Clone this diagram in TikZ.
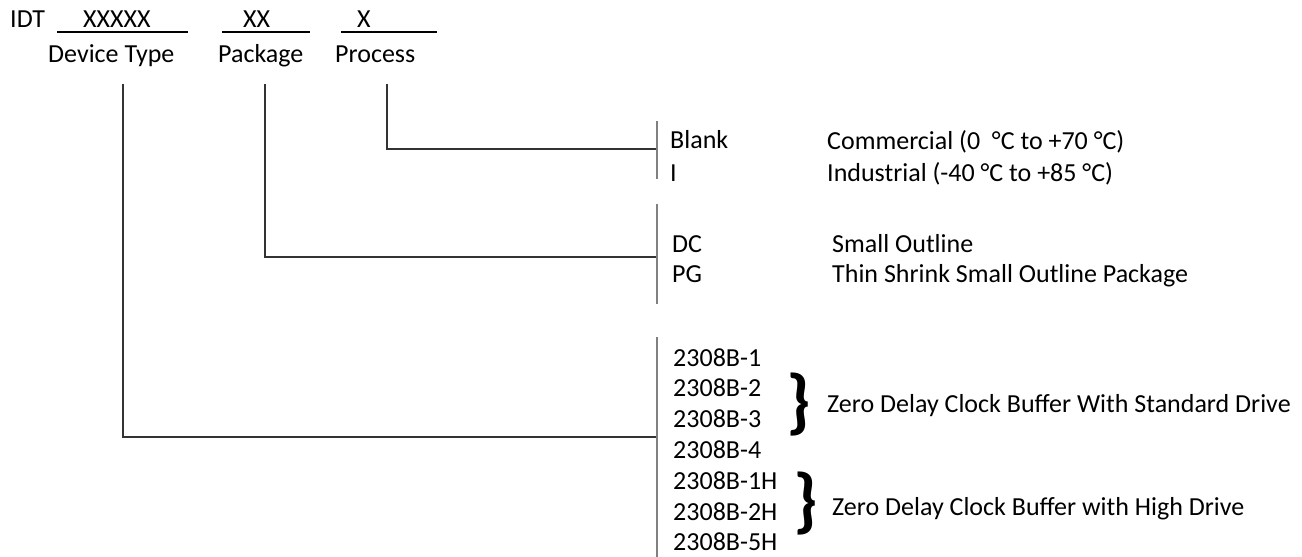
\documentclass[tikz,border=0pt]{standalone}
\usepackage{fontspec}
\setmainfont{Carlito}
\usetikzlibrary{positioning}
\definecolor{linegray}{gray}{0.2}
\definecolor{bargray}{gray}{0.5}
\tikzset{
  lbl/.style={anchor=base west,inner sep=0pt,font=\fontsize{26}{30}\selectfont},
  conn/.style={draw=linegray,line width=1.3pt},
  bar/.style={draw=bargray,line width=1.6pt},
  uline/.style={draw=black,line width=1.2pt},
  brc/.style={inner sep=0pt,font=\fontsize{72}{72}\selectfont\bfseries},
}
\begin{document}
\begin{tikzpicture}[x=1pt,y=-1pt]
  \useasboundingbox (0,0) rectangle (1302,557);

  \node[lbl] (idt) at (10,27) {IDT};
  \node[lbl] (xxxxx) at (83,27) {XXXXX};
  \node[lbl] (xx) at (243,27) {XX};
  \node[lbl] (x) at (357,27) {X};
  \coordinate (u1a) at (57,32);  \coordinate (u1b) at (188,32);
  \coordinate (u2a) at (222,32); \coordinate (u2b) at (310,32);
  \coordinate (u3a) at (341,32); \coordinate (u3b) at (437,32);
  \draw[uline] (u1a) -- (u1b);
  \draw[uline] (u2a) -- (u2b);
  \draw[uline] (u3a) -- (u3b);

  \node[lbl] (devtype) at (48,62) {Device Type};
  \node[lbl] (package) at (218,62) {Package};
  \node[lbl] (process) at (335,62) {Process};

  \coordinate (devtop) at (123,84);
  \coordinate (pkgtop) at (265,84);
  \coordinate (prctop) at (387,84);
  \coordinate (prcbar) at (657,149);
  \coordinate (pkgbar) at (657,257);
  \coordinate (devbar) at (657,437);
  \draw[conn] (prctop) |- (prcbar);
  \draw[conn] (pkgtop) |- (pkgbar);
  \draw[conn] (devtop) |- (devbar);

  \coordinate (bar1t) at (657,121); \coordinate (bar1b) at (657,179);
  \coordinate (bar2t) at (657,204); \coordinate (bar2b) at (657,304);
  \coordinate (bar3t) at (657,337); \coordinate (bar3b) at (657,557);
  \draw[bar] (bar1t) -- (bar1b);
  \draw[bar] (bar2t) -- (bar2b);
  \draw[bar] (bar3t) -- (bar3b);

  \node[lbl] (blank) at (670,148) {Blank};
  \node[lbl] (ind) at (670,181) {I};
  \node[lbl] (comm) at (827,149) {Commercial (0\ \ °C to +70 °C)};
  \node[lbl] (indus) at (827,181) {Industrial (-40 °C to +85 °C)};

  \node[lbl] (dc) at (672,252) {DC};
  \node[lbl] (pg) at (672,282) {PG};
  \node[lbl] (soic) at (832,252) {Small Outline};
  \node[lbl] (tssop) at (832,282) {Thin Shrink Small Outline Package};

  \foreach \pn [count=\i from 0] in {2308B-1,2308B-2,2308B-3,2308B-4,2308B-1H,2308B-2H,2308B-5H}
    \node[lbl] (pn\i) at (673,{366+30.8*\i}) {\pn};

  \node[brc] (brace1) at (799,405) {\}};
  \node[lbl] (stddrv) at (827,412) {Zero Delay Clock Buffer With Standard Drive};
  \node[brc] (brace2) at (806,504) {\}};
  \node[lbl] (highdrv) at (832,515) {Zero Delay Clock Buffer with High Drive};
\end{tikzpicture}
\end{document}
